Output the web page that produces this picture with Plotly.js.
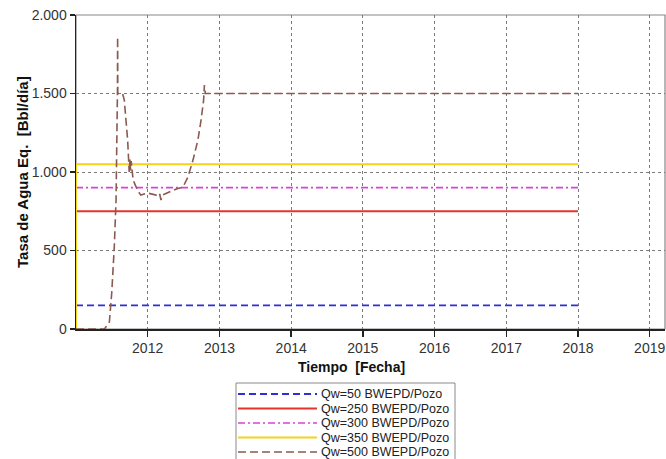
<!DOCTYPE html>
<html>
<head>
<meta charset="utf-8">
<script src="https://cdn.plot.ly/plotly-3.0.1.min.js"></script>
<style>
  html, body { margin: 0; padding: 0; background: #fff; }
  #chart { width: 666px; height: 459px; }
</style>
</head>
<body>
<div id="chart"></div>
<script>
// ---- Data ----
const seriesNames = [
  'Qw=50 BWEPD/Pozo',
  'Qw=250 BWEPD/Pozo',
  'Qw=300 BWEPD/Pozo',
  'Qw=350 BWEPD/Pozo',
  'Qw=500 BWEPD/Pozo'
];

const qw50Dates = ['2011-01-01', '2018-01-01'];
const qw50Values = [150, 150];

const qw250Dates = ['2011-01-01', '2018-01-01'];
const qw250Values = [750, 750];

const qw300Dates = ['2011-01-01', '2018-01-01'];
const qw300Values = [900, 900];

const qw350Dates = ['2011-01-01', '2011-01-01', '2018-01-01'];
const qw350Values = [0, 1050, 1050];

const qw500Dates = [
  '2011-01-01', '2011-05-26', '2011-06-20', '2011-07-02', '2011-07-15',
  '2011-07-24', '2011-07-31', '2011-08-01', '2011-08-02', '2011-08-26',
  '2011-09-04', '2011-09-21', '2011-09-29', '2011-10-03', '2011-10-06',
  '2011-10-09', '2011-10-19', '2011-11-10', '2011-11-27', '2012-01-01',
  '2012-02-13', '2012-03-01', '2012-03-09', '2012-03-17', '2012-04-20',
  '2012-05-26', '2012-06-29', '2012-07-24', '2012-08-19', '2012-09-13',
  '2012-09-29', '2012-10-12', '2012-10-16', '2012-10-21', '2018-01-01'
];
const qw500Values = [
  0, 0, 45, 229, 522,
  822, 1500, 1860, 1500, 1500,
  1458, 1204, 1000, 1080, 1010,
  1070, 949, 885, 853, 866,
  853, 866, 822, 853, 873,
  892, 904, 968, 1076, 1204,
  1331, 1458, 1554, 1500, 1500
];

const xTickVals = ['2012-01-01', '2013-01-01', '2014-01-01', '2015-01-01',
                   '2016-01-01', '2017-01-01', '2018-01-01', '2019-01-01'];
const xTickText = ['2012', '2013', '2014', '2015', '2016', '2017', '2018', '2019'];
const yTickVals = [0, 500, 1000, 1500, 2000];

// ---- Styles ----
const seriesColors = ['#2f2fd6', '#e8332c', '#e03ce0', '#f6d21a', '#8a5a50'];
const seriesDash = ['7px,4px', 'solid', '7px,3px,2px,3px', 'solid', '8px,4px'];
const seriesWidth = [1.8, 2, 1.7, 2, 1.6];
const seriesX = [qw50Dates, qw250Dates, qw300Dates, qw350Dates, qw500Dates];
const seriesY = [qw50Values, qw250Values, qw300Values, qw350Values, qw500Values];

const traces = seriesNames.map((name, i) => ({
  type: 'scatter',
  mode: 'lines',
  name: name,
  x: seriesX[i],
  y: seriesY[i],
  line: { color: seriesColors[i], dash: seriesDash[i], width: seriesWidth[i] },
  showlegend: false,
  hoverinfo: 'x+y+name'
}));

// ---- Layout geometry ----
const W = 666, H = 459;
const M = { l: 76, r: 1, t: 15, b: 130 };
const PW = W - M.l - M.r, PH = H - M.t - M.b;
const px2x = px => (px - M.l) / PW;
const py2y = py => (H - M.b - py) / PH;

const shapes = [
  { type: 'rect', xref: 'paper', yref: 'paper', x0: 0, x1: 1, y0: 0, y1: 1,
    line: { color: '#888', width: 1.2 }, layer: 'below' },
  { type: 'rect', xref: 'paper', yref: 'paper',
    x0: px2x(236), x1: px2x(455), y0: py2y(472), y1: py2y(383),
    line: { color: '#8a8a8a', width: 1 }, fillcolor: 'rgba(255,255,255,0)' }
];
const annotations = [
  { xref: 'paper', yref: 'paper', x: px2x(351), y: py2y(367),
    text: 'Tiempo  [Fecha]', showarrow: false, xanchor: 'center', yanchor: 'middle',
    font: { family: 'Liberation Sans, Arial, sans-serif', size: 14, color: '#111', weight: 'bold' } },
  { xref: 'paper', yref: 'paper', x: px2x(22), y: py2y(172),
    text: 'Tasa de Agua Eq.  [Bbl/día]', showarrow: false, textangle: -90,
    xanchor: 'center', yanchor: 'middle',
    font: { family: 'Liberation Sans, Arial, sans-serif', size: 15, color: '#111', weight: 'bold' } }
];

seriesNames.forEach((name, i) => {
  const py = 394 + i * 14.5;
  shapes.push({
    type: 'line', xref: 'paper', yref: 'paper',
    x0: px2x(238), x1: px2x(317), y0: py2y(py), y1: py2y(py),
    line: { color: seriesColors[i], dash: seriesDash[i], width: seriesWidth[i] }
  });
  annotations.push({
    xref: 'paper', yref: 'paper', x: px2x(319), y: py2y(py),
    text: name, showarrow: false, xanchor: 'left', yanchor: 'middle',
    font: { family: 'Liberation Sans, Arial, sans-serif', size: 12.5, color: '#222' }
  });
});

const layout = {
  width: W, height: H,
  margin: M,
  paper_bgcolor: '#fff',
  plot_bgcolor: '#fff',
  separators: ',.',
  showlegend: false,
  font: { family: 'Liberation Sans, Arial, sans-serif', size: 14, color: '#222' },
  xaxis: {
    type: 'date',
    range: ['2011-01-01', '2019-03-20'],
    tickmode: 'array',
    tickvals: xTickVals,
    ticktext: xTickText,
    ticks: 'outside', ticklen: 6, tickwidth: 1.5, tickcolor: '#222',
    showline: true, linecolor: '#222', linewidth: 1.5,
    showgrid: true, gridcolor: '#7a7a7a', gridwidth: 1, griddash: 'dot',
    zeroline: false,
    tickfont: { size: 14, color: '#333' }
  },
  yaxis: {
    range: [0, 2000],
    tickmode: 'array',
    tickvals: yTickVals,
    tickformat: ',d',
    ticks: 'outside', ticklen: 5, tickwidth: 1.5, tickcolor: '#222',
    showline: true, linecolor: '#222', linewidth: 1.5,
    showgrid: true, gridcolor: '#7a7a7a', gridwidth: 1, griddash: 'dot',
    zeroline: false,
    tickfont: { size: 14, color: '#333' }
  },
  shapes: shapes,
  annotations: annotations
};

Plotly.newPlot('chart', traces, layout, { displayModeBar: false, staticPlot: true });
</script>
</body>
</html>
